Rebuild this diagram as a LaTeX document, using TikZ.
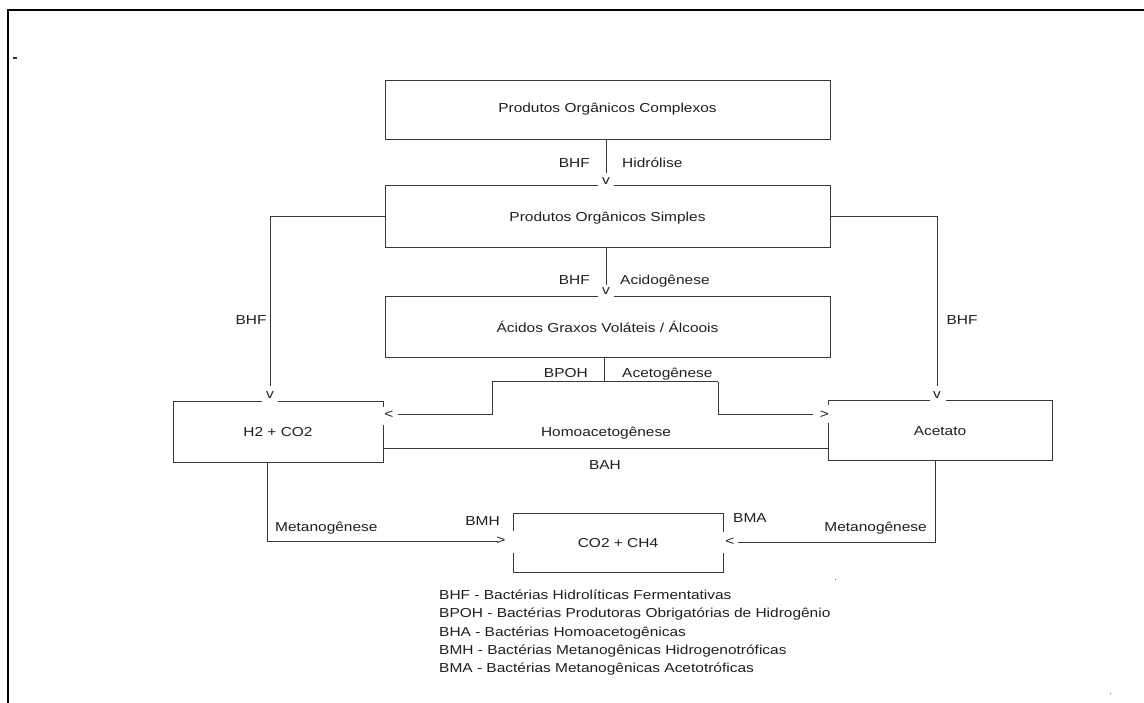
\documentclass[tikz,border=0pt]{standalone}
\usepackage{fontspec}
\setmainfont{Liberation Sans}[FakeStretch=1.19]
\definecolor{lc}{gray}{0.22}
\definecolor{ink}{gray}{0.12}
\tikzset{
  box/.style={draw=lc, line width=1pt, inner sep=0pt, text height=9.3pt, text depth=0pt, text=ink},
  txt/.style={inner sep=0pt, text height=9.3pt, text depth=0pt, text=ink},
  glyph/.style={inner sep=0pt, text=ink},
  conn/.style={draw=lc, line width=1pt},
  gapfill/.style={fill=white}
}
\begin{document}
\begin{tikzpicture}[x=1pt,y=-1pt,font=\fontsize{13}{15}\selectfont]
\useasboundingbox (0,0) rectangle (1144,703);
% frame
\draw[line width=2pt] (7.5,703) -- (7.5,10.5) -- (1144,10.5);
% stray marks
\fill[black!80] (12.5,57) rectangle (16.5,59);
\fill[black!60] (834.5,578.5) rectangle (835.5,579.5);
\fill[black!60] (1109.5,692.5) rectangle (1110.5,693.5);

% boxes
\node[box, minimum width=445pt, minimum height=59pt, text depth=6pt] (b1) at (607.5,110.5) {Produtos Orgânicos Complexos};
\node[box, minimum width=445pt, minimum height=62pt] (b2) at (607.5,217) {Produtos Orgânicos Simples};
\node[box, minimum width=445pt, minimum height=61pt] (b3) at (607.5,327.5) {Ácidos Graxos Voláteis / Álcoois};
\node[box, minimum width=210pt, minimum height=60pt] (h2) at (278,432) {H2 + CO2};
\node[box, minimum width=224pt, minimum height=59pt] (ac) at (940,430.5) {Acetato};
\node[box, minimum width=210pt, minimum height=59pt] (co) at (618,542.5) {CO2 + CH4};

% gaps in the box borders where the arrow glyphs sit
\fill[gapfill] (598,183) rectangle (614,189);
\fill[gapfill] (598,294) rectangle (614,300);
\fill[gapfill] (262,399) rectangle (278,405);
\fill[gapfill] (930,398) rectangle (946,404);
\fill[gapfill] (380,407) rectangle (386,425);
\fill[gapfill] (825,405) rectangle (831,423);
\fill[gapfill] (510,531) rectangle (516,553);
\fill[gapfill] (720,532) rectangle (726,553);

% arrow glyphs
\node[glyph] (v1) at (606,181) {v};
\node[glyph] (v2) at (606,291.5) {v};
\node[glyph] (v3) at (270,395) {v};
\node[glyph] (v4) at (937,395) {v};
\node[glyph] (lt1) at (389,415) {<};
\node[glyph] (gt1) at (824.5,414.5) {>};
\node[glyph] (gt2) at (501,541) {>};
\node[glyph] (lt2) at (730,542) {<};

% helper coordinates
\coordinate (split) at (604,382);
\coordinate (eL) at (492,382);
\coordinate (eR) at (718,382);
\coordinate (hy) at (0,448);
\coordinate (mL) at (267,0);
\coordinate (mR) at (935,0);

% connectors
\draw[conn, shorten >=8pt] (v1 |- b1.south) -- (v1.center);
\draw[conn, shorten >=6.5pt] (v2 |- b2.south) -- (v2.center);
\draw[conn, shorten >=9pt] (b2.west) -| (v3.center);
\draw[conn, shorten >=9pt] (b2.east) -| (v4.center);
\draw[conn] (b3.south -| split) -- (split);
\draw[conn] (eL) -- (eR);
\draw[conn, shorten >=9pt] (eL) |- (lt1.center);
\draw[conn, shorten >=11.5pt] (eR) |- (gt1.center);
\draw[conn] (h2.east |- hy) -- (ac.west |- hy);
\draw[conn, shorten >=3pt] (h2.south -| mL) |- (gt2.center);
\draw[conn, shorten >=8pt] (ac.south -| mR) |- (lt2.center);

% labels
\node[txt, anchor=east] (l1) at (590,163) {BHF};
\node[txt, anchor=west] (l2) at (622,163) {Hidrólise};
\node[txt, anchor=east] (l3) at (590,280) {BHF};
\node[txt, anchor=west] (l4) at (620,280) {Acidogênese};
\node[txt] (l5) at (251,320) {BHF};
\node[txt] (l6) at (962,320) {BHF};
\node[txt, anchor=east] (l7) at (588,372.5) {BPOH};
\node[txt, anchor=west] (l8) at (622,372.5) {Acetogênese};
\node[txt] (l9) at (606,432) {Homoacetogênese};
\node[txt] (l10) at (605,465) {BAH};
\node[txt, anchor=west] (l11) at (275,526.5) {Metanogênese};
\node[txt, anchor=east] (l12) at (500,520.5) {BMH};
\node[txt, anchor=west] (l13) at (733,518) {BMA};
\node[txt, anchor=east] (l14) at (927,527) {Metanogênese};

% legend
\node[txt, anchor=west] (g1) at (439,595) {BHF - Bactérias Hidrolíticas Fermentativas};
\node[txt, anchor=west] (g2) at (439,613.25) {BPOH - Bactérias Produtoras Obrigatórias de Hidrogênio};
\node[txt, anchor=west] (g3) at (439,631.5) {BHA - Bactérias Homoacetogênicas};
\node[txt, anchor=west] (g4) at (439,649.75) {BMH - Bactérias Metanogênicas Hidrogenotróficas};
\node[txt, anchor=west] (g5) at (439,668) {BMA - Bactérias Metanogênicas Acetotróficas};
\end{tikzpicture}
\end{document}
